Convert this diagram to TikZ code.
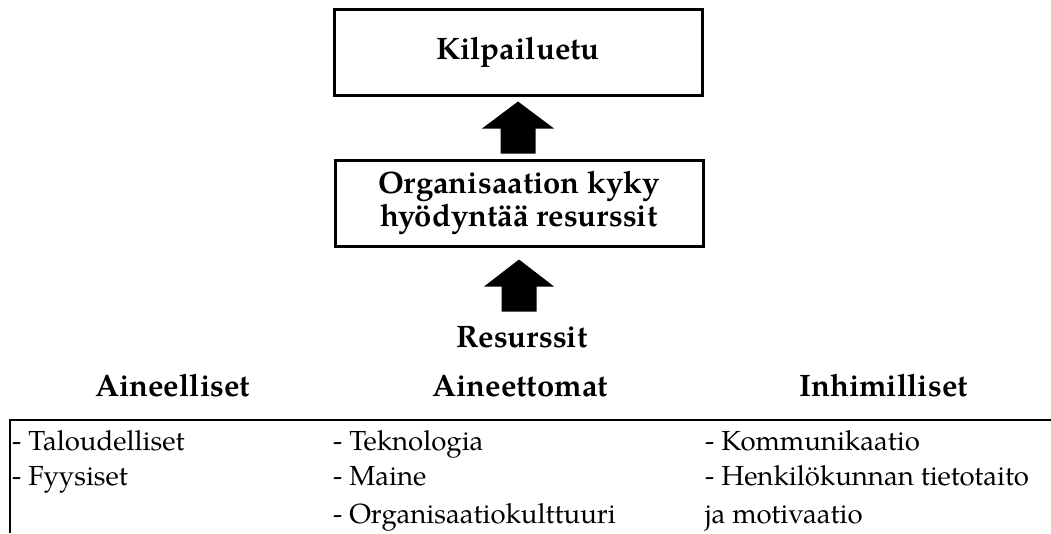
\documentclass[tikz,border=0pt]{standalone}
\usepackage{fontspec}
\setmainfont{texgyrepagella}[Extension=.otf,UprightFont=*-regular,BoldFont=*-bold,ItalicFont=*-italic,BoldItalicFont=*-bolditalic]
\usetikzlibrary{calc}
\begin{document}
\begin{tikzpicture}[x=1pt,y=-1pt,
  box/.style={draw, line width=3pt, minimum width=368pt, minimum height=86pt, inner sep=0pt, align=center, font=\fontsize{31}{33.5}\selectfont\bfseries},
  head/.style={inner sep=0pt, anchor=base, font=\fontsize{31}{34}\selectfont\bfseries},
  item/.style={inner sep=0pt, anchor=base west, font=\fontsize{27.6}{30}\selectfont},
  rule/.style={line width=2pt}]
\useasboundingbox (0,0) rectangle (1051,533);
\node[box] (top) at (518,52) {Kilpailuetu};
\node[box] (mid) at (519,203) {Organisaation kyky\\hyödyntää resurssit};
\node[head] (res) at (522,347) {Resurssit};
\node[head] (h1) at (172.5,396) {Aineelliset};
\node[head] (h2) at (520,396) {Aineettomat};
\node[head] (h3) at (883.5,396) {Inhimilliset};
% block arrows
\fill ($(top.south)+(0,5)$) -- ++(36,27) -- ++(-18.5,0) -- ++(0,25) -- ++(-35,0) -- ++(0,-25) -- ++(-18.5,0) -- cycle;
\fill ($(mid.south)+(0,12)$) -- ++(35,27) -- ++(-17.5,0) -- ++(0,25) -- ++(-35,0) -- ++(0,-25) -- ++(-17.5,0) -- cycle;
% table rules
\coordinate (tl) at (10,420);
\coordinate (tr) at (1051,420);
\coordinate (bl) at (10,533);
\draw[rule] (bl) -- (tl) -- (tr);
\node[item] (a1) at (12,450) {- Taloudelliset};
\node[item] (a2) at (12,485) {- Fyysiset};
\node[item] (b1) at (333,450) {- Teknologia};
\node[item] (b2) at (333,485) {- Maine};
\node[item] (b3) at (333,523) {- Organisaatiokulttuuri};
\node[item] (c1) at (705,450) {- Kommunikaatio};
\node[item] (c2) at (705,485) {- Henkilökunnan tietotaito};
\node[item] (c3) at (705,523) {ja motivaatio};
\end{tikzpicture}
\end{document}
